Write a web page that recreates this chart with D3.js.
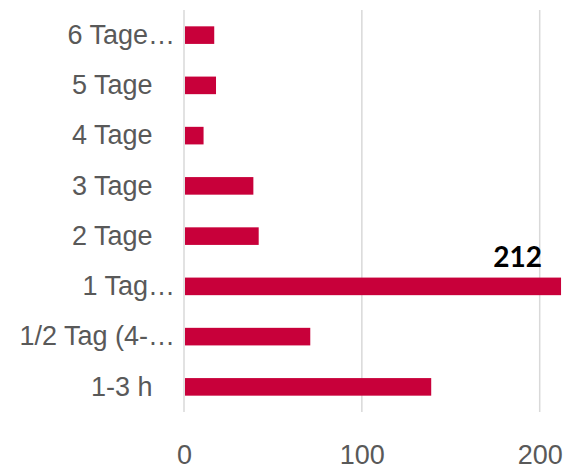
<!DOCTYPE html>
<html>
<head>
<meta charset="utf-8">
<script src="https://cdn.jsdelivr.net/npm/d3@7"></script>
<style>
  html, body { margin: 0; padding: 0; background: #fff; }
  svg { display: block; font-family: Lato, "Liberation Sans", sans-serif; }
  .cat text { white-space: pre; }
</style>
</head>
<body>
<svg id="chart" width="566" height="465"></svg>
<script>
// categories, first one is drawn at the bottom (Excel order)
const categories = ["1-3 h   ", "1/2 Tag (4-\u2026", "1 Tag\u2026", "2 Tage   ", "3 Tage   ", "4 Tage   ", "5 Tage   ", "6 Tage\u2026"];
const values = [139, 71, 212, 42, 39, 11, 18, 17];
const tickValues = [0, 100, 200];
const labelled = ["1 Tag\u2026"];  // only this bar carries a data label

const LEFT = 184, TOP = 10, BOTTOM = 412;
const BAR = "#c8003a", GRID = "#d9d9d9", TEXT = "#595959";
const FS = 27;

let svg = d3.select("#chart");

let x = d3.scaleLinear().domain([0, 200]).range([LEFT, 539.7]);
let y = d3.scaleBand()
    .domain(categories.slice().reverse())
    .range([TOP, BOTTOM])
    .paddingInner(0.65)
    .paddingOuter(0.325);

// gridlines (the one at 0 doubles as the axis line)
svg.append("g")
    .selectAll("line")
    .data(tickValues)
    .join("line")
    .attr("x1", d => x(d)).attr("x2", d => x(d))
    .attr("y1", TOP).attr("y2", BOTTOM)
    .attr("stroke", GRID)
    .attr("stroke-width", 1.5);

// bars
let rows = categories.map((c, i) => ({ cat: c, val: values[i] }));
svg.append("g")
    .selectAll("rect")
    .data(rows)
    .join("rect")
    .attr("x", x(0) + 1)
    .attr("y", d => y(d.cat))
    .attr("width", d => x(d.val) - x(0) - 1)
    .attr("height", y.bandwidth())
    .attr("fill", BAR);

// data label
svg.append("g")
    .selectAll("text")
    .data(rows.filter(d => labelled.includes(d.cat)))
    .join("text")
    .attr("x", d => x(d.val) - 19)
    .attr("y", d => y(d.cat) - 10.5)
    .attr("text-anchor", "end")
    .attr("font-size", 28)
    .attr("font-weight", "bold")
    .attr("fill", "#000")
    .text(d => d.val);

// category axis
let yAxis = svg.append("g")
    .attr("class", "cat")
    .attr("transform", `translate(${LEFT},0)`)
    .call(d3.axisLeft(y).tickSize(0).tickPadding(9));
yAxis.select(".domain").remove();
yAxis.selectAll("text")
    .attr("font-size", FS)
    .attr("font-family", null)
    .attr("fill", TEXT);

// value axis
let xAxis = svg.append("g")
    .attr("transform", `translate(0,${BOTTOM})`)
    .call(d3.axisBottom(x).tickValues(tickValues).tickSize(0).tickFormat(d3.format("d")));
xAxis.select(".domain").remove();
xAxis.selectAll("text")
    .attr("y", 52)
    .attr("dy", 0)
    .attr("font-size", FS)
    .attr("font-family", null)
    .attr("fill", TEXT);
</script>
</body>
</html>
